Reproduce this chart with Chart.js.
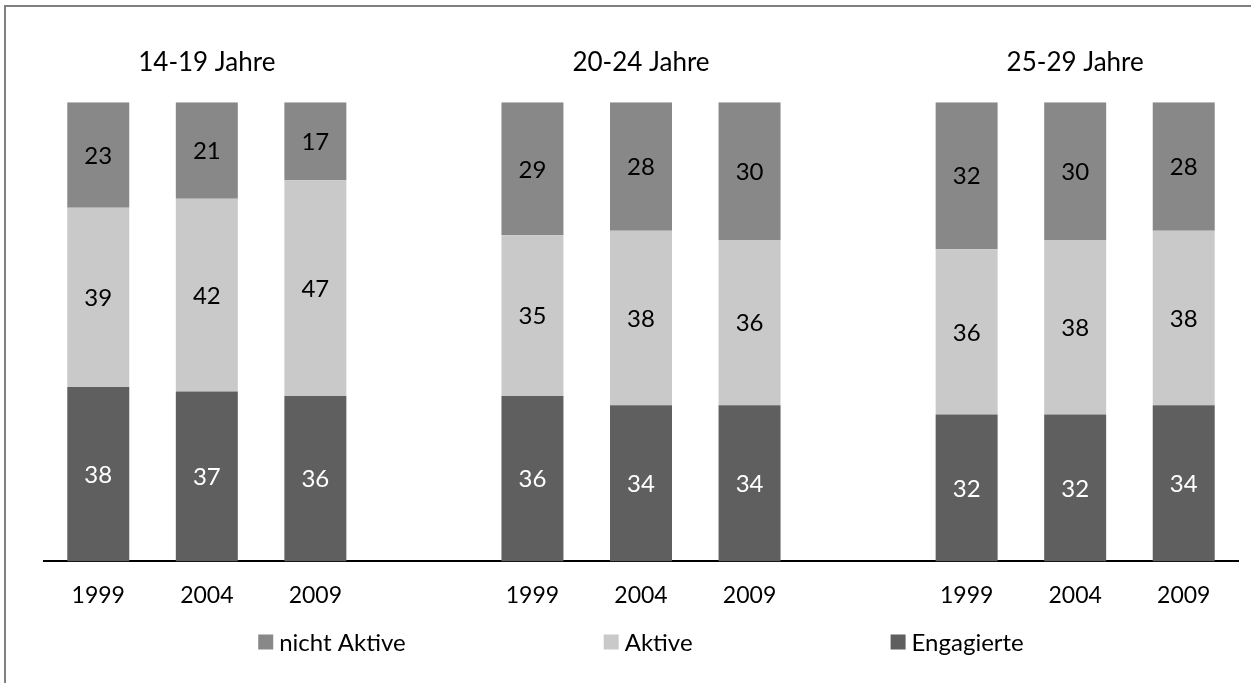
<!DOCTYPE html>
<html>
<head>
<meta charset="utf-8">
<script src="https://cdn.jsdelivr.net/npm/chart.js@4/dist/chart.umd.min.js"></script>
<style>
  html, body { margin: 0; padding: 0; background: #fff; overflow: hidden; }
  #rahmen { position: absolute; left: 4px; top: 5px; width: 1300px; height: 740px;
            border-left: 2px solid #808080; border-top: 2px solid #808080; }
  #wrap { position: absolute; left: 0; top: 0; width: 1251px; height: 683px; }
</style>
</head>
<body>
<div id="rahmen"></div>
<div id="wrap"><canvas id="grafik" width="1251" height="683"></canvas></div>
<script>
// Jahre je Altersgruppe, leere Kategorie als Abstand zwischen den Gruppen
const jahre = ['1999', '2004', '2009', '', '1999', '2004', '2009', '', '1999', '2004', '2009'];
const gruppen = ['', '14-19 Jahre', '', '', '', '20-24 Jahre', '', '', '', '25-29 Jahre', ''];

const engagierte  = [38, 37, 36, null, 36, 34, 34, null, 32, 32, 34];
const aktive      = [39, 42, 47, null, 35, 38, 36, null, 36, 38, 38];
const nichtAktive = [23, 21, 17, null, 29, 28, 30, null, 32, 30, 28];

const schrift = 'Lato, "Open Sans", sans-serif';

// Zahlen mitten in die Segmente schreiben
const werteLabels = {
    id: 'werteLabels',
    afterDatasetsDraw(chart) {
        const ctx = chart.ctx;
        ctx.save();
        ctx.font = '24px ' + schrift;
        ctx.textAlign = 'center';
        ctx.textBaseline = 'middle';
        chart.data.datasets.forEach((ds, i) => {
            const meta = chart.getDatasetMeta(i);
            meta.data.forEach((bar, j) => {
                const wert = ds.data[j];
                if (wert == null) return;
                ctx.fillStyle = ds.labelFarbe;
                ctx.fillText(String(wert), bar.x, (bar.y + bar.base) / 2 + 1);
            });
        });
        ctx.restore();
    }
};

// Legende mit breiten Abständen wie im Original
const legende = {
    id: 'legende',
    afterDraw(chart) {
        const ctx = chart.ctx;
        const box = 15, luecke = 6, abstand = 198;
        const y = 642;
        ctx.save();
        ctx.font = '24px ' + schrift;
        ctx.textBaseline = 'middle';
        const eintraege = chart.data.datasets.slice().reverse();
        const breiten = eintraege.map(ds => box + luecke + ctx.measureText(ds.label).width);
        const gesamt = breiten.reduce((a, b) => a + b, 0) + abstand * (eintraege.length - 1);
        const mitte = (chart.chartArea.left + chart.chartArea.right) / 2;
        let x = mitte - gesamt / 2;
        eintraege.forEach((ds, i) => {
            ctx.fillStyle = ds.backgroundColor;
            ctx.fillRect(x, y - box / 2, box, box);
            ctx.fillStyle = '#000';
            ctx.fillText(ds.label, x + box + luecke, y + 1);
            x += breiten[i] + abstand;
        });
        ctx.restore();
    }
};

new Chart(document.getElementById('grafik').getContext('2d'), {
    type: 'bar',
    data: {
        labels: jahre,
        datasets: [
            { label: 'Engagierte', data: engagierte, backgroundColor: '#5f5f5f', labelFarbe: '#ffffff' },
            { label: 'Aktive', data: aktive, backgroundColor: '#c9c9c9', labelFarbe: '#000000' },
            { label: 'nicht Aktive', data: nichtAktive, backgroundColor: '#888888', labelFarbe: '#000000' }
        ]
    },
    options: {
        responsive: false,
        animation: false,
        categoryPercentage: 1,
        barPercentage: 0.571,
        layout: { padding: { left: 44, right: 13, top: 24, bottom: 54 } },
        plugins: {
            legend: { display: false },
            tooltip: { enabled: false }
        },
        scales: {
            x: {
                stacked: true,
                grid: { display: false, drawTicks: false },
                border: { display: true, color: '#000', width: 2 },
                ticks: { color: '#000', padding: 20, autoSkip: false, maxRotation: 0,
                         font: { family: schrift, size: 23 } }
            },
            x2: {
                type: 'category',
                position: 'top',
                labels: gruppen,
                offset: true,
                grid: { display: false, drawTicks: false },
                border: { display: false },
                ticks: { color: '#000', padding: 23.5, autoSkip: false, maxRotation: 0,
                         font: { family: schrift, size: 26 } }
            },
            y: {
                stacked: true,
                display: false,
                min: 0,
                max: 100
            }
        }
    },
    plugins: [werteLabels, legende]
});
</script>
</body>
</html>
